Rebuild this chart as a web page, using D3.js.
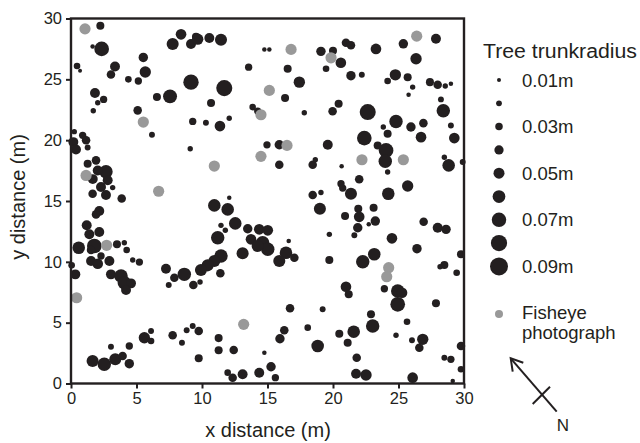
<!DOCTYPE html>
<html><head><meta charset="utf-8">
<script src="https://cdn.jsdelivr.net/npm/d3@7/dist/d3.min.js"></script>
<style>
body{margin:0;background:#fff}
text{font-family:"Liberation Sans",Arial,Helvetica,sans-serif;fill:#231f20}
</style>
</head><body>
<svg id="c" width="640" height="443"></svg>
<script>
// ---- data (metres) ----
const treeX = [
 2.24,2.34,1.65,0.46,0.69,5.52,3.36,3.05,5.67,4.38,
 5.14,9.16,1.83,2.49,2.04,1.70,6.56,7.56,5.09,9.29,
 6.18,9.10,0.18,0.89,1.15,0.38,1.27,0.25,1.91,1.27,
 2.67,2.04,1.66,2.80,3.18,2.29,1.65,2.67,3.87,7.76,
 8.40,9.16,9.54,
 9.67,10.56,11.45,14.76,15.14,13.56,16.54,17.43,11.70,16.34,
 10.69,13.87,14.25,17.81,10.30,11.37,12.08,14.96,15.90,15.90,
 18.45,18.65,19.60,18.45,19.08,19.08,19.47,20.00,20.60,
 20.99,21.37,23.28,25.37,27.86,26.34,21.37,22.20,24.76,24.17,
 25.70,26.08,25.77,27.40,27.99,28.57,29.00,20.43,19.97,22.65,
 28.24,28.42,24.81,24.17,23.84,25.95,26.90,26.72,29.00,29.26,
 22.39,23.41,24.05,23.99,20.66,24.17,28.50,28.83,29.90,20.61,
 20.74,21.37,22.00,24.22,25.70,
 2.16,1.91,1.20,2.16,1.40,1.78,1.53,0.59,3.51,4.07,
 4.25,2.29,1.53,2.04,2.93,4.71,5.22,0.05,0.33,3.05,
 3.82,4.07,4.58,4.20,7.25,7.89,7.46,8.65,9.34,5.60,
 6.11,6.11,4.45,3.05,1.65,2.54,3.38,3.94,4.45,7.76,
 8.47,8.83,9.29,9.75,9.75,
 10.94,11.96,12.08,19.00,12.54,11.45,11.78,13.49,14.37,15.02,
 13.74,14.63,15.02,14.25,16.62,11.20,13.10,11.45,10.94,10.43,
 9.92,11.40,9.85,16.41,17.05,15.90,19.72,19.72,16.72,19.21,
 11.27,16.28,15.95,18.07,18.83,11.27,12.42,14.76,11.96,12.34,
 13.10,14.37,15.27,15.60,
 21.93,23.10,20.92,22.00,21.89,21.63,23.23,22.73,24.50,26.92,
 27.99,28.63,26.41,22.27,23.15,28.50,28.17,29.44,29.77,20.99,
 21.20,23.92,24.94,25.27,24.94,27.86,25.65,22.90,23.03,21.58,
 20.48,21.12,24.81,26.03,26.85,26.59,21.81,21.76,22.52,26.08,
 28.50,29.00,29.77,29.77,29.14
];
const treeY = [
 29.4,27.5,27.7,26.1,25.7,26.8,26.06,25.4,25.6,25.0,
 24.86,24.77,23.87,23.35,23.07,22.42,23.54,23.6,22.45,21.54,
 20.44,19.3,19.84,20.4,20.0,19.24,19.4,20.7,18.34,18.06,
 17.4,17.5,16.8,16.7,16.1,16.15,15.6,15.5,15.2,27.9,
 28.7,27.9,28.5,
 28.3,28.4,28.25,27.46,27.46,26.0,25.87,24.77,24.28,23.46,
 23.05,22.72,22.39,22.25,21.43,21.16,21.8,19.62,19.62,17.98,
 17.98,18.39,19.62,15.5,15.7,27.3,25.87,27.35,26.36,
 28.0,27.8,27.5,27.92,28.33,26.69,25.3,25.37,25.37,24.86,
 25.18,24.36,23.73,24.77,24.55,24.45,24.63,22.99,22.37,22.31,
 23.35,22.42,21.54,20.53,21.08,21.08,21.4,20.25,21.2,20.17,
 20.17,19.57,19.16,18.26,17.85,17.38,18.6,17.93,18.2,16.42,
 16.06,15.6,16.78,15.6,16.23,
 14.17,13.9,13.0,12.45,12.26,11.3,10.97,11.16,11.44,11.57,
 10.97,10.48,10.07,9.84,10.07,10.15,9.98,9.71,8.97,8.97,
 8.83,8.28,8.23,7.68,9.43,8.69,8.09,8.97,8.09,3.76,
 4.31,3.49,3.08,3.02,1.85,1.58,1.99,2.26,1.63,3.96,
 3.35,4.37,4.72,4.31,2.07,
 14.64,14.31,15.27,14.36,13.16,13.0,12.59,12.72,12.67,12.59,
 11.85,11.57,11.03,11.3,11.71,11.98,10.7,10.48,10.07,9.71,
 9.33,9.06,8.34,10.75,10.34,10.07,12.26,10.15,6.18,6.1,
 3.73,4.37,3.68,4.59,3.08,2.73,2.75,2.53,0.89,0.48,
 0.76,0.89,1.38,0.48,
 14.36,14.45,13.76,13.7,12.8,12.18,13.35,13.08,11.93,13.3,
 12.8,12.67,11.08,10.01,10.62,9.74,9.6,9.1,10.62,7.95,
 7.33,7.79,7.6,7.46,6.51,6.59,5.08,5.69,4.72,4.26,
 4.09,3.35,3.96,3.55,3.63,2.94,2.12,0.8,0.7,0.48,
 2.12,1.99,3.08,1.17,0.2
];
const treeRadius = [
 .033,.071,.013,.025,.010,.041,.044,.036,.052,.025,
 .029,.075,.044,.029,.018,.018,.033,.067,.036,.029,
 .021,.018,.044,.029,.036,.044,.021,.018,.036,.033,
 .064,.044,.044,.044,.018,.044,.036,.044,.036,.056,
 .048,.044,.033,
 .052,.044,.056,.013,.013,.029,.033,.052,.079,.033,
 .033,.025,.029,.018,.021,.048,.018,.029,.041,.036,
 .036,.018,.044,.036,.018,.041,.025,.033,.048,
 .036,.036,.048,.041,.044,.052,.041,.021,.052,.025,
 .033,.018,.013,.033,.036,.018,.013,.033,.036,.079,
 .021,.064,.064,.033,.018,.041,.036,.048,.021,.048,
 .071,.033,.071,.064,.013,.018,.018,.059,.021,.029,
 .029,.056,.036,.059,.052,
 .044,.036,.044,.044,.044,.071,.036,.059,.033,.018,
 .025,.029,.044,.048,.044,.018,.029,.025,.044,.044,
 .064,.064,.044,.044,.044,.036,.021,.064,.036,.052,
 .021,.025,.029,.021,.056,.064,.056,.036,.041,.036,
 .021,.021,.021,.036,.033,
 .059,.059,.013,.056,.059,.018,.018,.041,.048,.048,
 .048,.064,.064,.056,.013,.064,.056,.064,.056,.056,
 .056,.036,.018,.059,.036,.056,.018,.033,.036,.021,
 .033,.036,.041,.025,.059,.033,.036,.013,.025,.036,
 .044,.044,.041,.029,
 .033,.033,.033,.048,.041,.021,.041,.013,.048,.036,
 .044,.041,.041,.064,.059,.033,.018,.025,.033,.048,
 .033,.029,.064,.048,.071,.033,.025,.033,.064,.059,
 .033,.033,.018,.021,.052,.036,.036,.044,.052,.048,
 .021,.029,.036,.025,.013
];
const photoX = [1.07,5.52,1.15,6.69,16.8,15.14,14.5,16.49,14.5,10.94,19.85,26.39,22.21,25.37,2.72,0.43,13.18,24.25,24.1];
const photoY = [29.15,21.49,17.1,15.8,27.46,24.09,22.09,19.57,18.67,17.87,26.77,28.55,18.39,18.39,11.36,7.05,4.86,9.52,8.78];
const xTicks = [0,5,10,15,20,25,30];
const yTicks = [0,5,10,15,20,25,30];
const legendSizes = [0.01,0.02,0.03,0.04,0.05,0.06,0.07,0.08,0.09];
const legendLabels = ["0.01m","","0.03m","","0.05m","","0.07m","","0.09m"];
const legendTitle = "Tree trunkradius";
const photoLabel = ["Fisheye","photograph"];

// ---- drawing ----
const BLACK = "#231f20", GRAY = "#999999";
const svg = d3.select("#c");
const x = d3.scaleLinear().domain([0,30]).range([71,464]);
const y = d3.scaleLinear().domain([0,30]).range([383.5,18.5]);
const rScale = d3.scaleLinear().domain([0.01,0.09]).range([2,9]);

const trees = treeX.map((v,i)=>({x:v,y:treeY[i],r:treeRadius[i]}));
const photos = photoX.map((v,i)=>({x:v,y:photoY[i]}));

const plot = svg.append("g");
plot.selectAll("circle.tree").data(trees).enter().append("circle")
  .attr("class","tree").attr("cx",d=>x(d.x)).attr("cy",d=>y(d.y))
  .attr("r",d=>rScale(d.r)).attr("fill",BLACK);
plot.selectAll("circle.photo").data(photos).enter().append("circle")
  .attr("class","photo").attr("cx",d=>x(d.x)).attr("cy",d=>y(d.y))
  .attr("r",5.6).attr("fill",GRAY);

// frame
svg.append("rect").attr("x",71).attr("y",18.5).attr("width",393).attr("height",365)
  .attr("fill","none").attr("stroke",BLACK).attr("stroke-width",2.4);

const xAxis = svg.append("g").attr("transform","translate(0,383.5)")
  .call(d3.axisBottom(x).tickValues(xTicks).tickSize(5).tickPadding(4).tickFormat(d3.format("d")));
const yAxis = svg.append("g").attr("transform","translate(71,0)")
  .call(d3.axisLeft(y).tickValues(yTicks).tickSize(5).tickPadding(4).tickFormat(d3.format("d")));
[xAxis,yAxis].forEach(a=>{
  a.select(".domain").remove();
  a.selectAll(".tick line").attr("stroke",BLACK).attr("stroke-width",2);
  a.selectAll(".tick text").attr("fill",BLACK).style("font-size","16.5px")
   .style("font-family",'"Liberation Sans",Arial,sans-serif');
});

svg.append("text").attr("x",268).attr("y",437).attr("text-anchor","middle")
  .style("font-size","20px").text("x distance (m)");
svg.append("text").attr("transform","translate(24.5,197) rotate(-90)").attr("text-anchor","middle")
  .style("font-size","20px").text("y distance (m)");

// legend
const lg = svg.append("g");
lg.append("text").attr("x",483).attr("y",58).style("font-size","19.5px")
  .attr("textLength",154).attr("lengthAdjust","spacingAndGlyphs").text(legendTitle);
legendSizes.forEach((s,i)=>{
  const cy = 80 + i*23.3;
  lg.append("circle").attr("cx",499).attr("cy",cy).attr("r",rScale(s)).attr("fill",BLACK);
  if(legendLabels[i]) lg.append("text").attr("x",522).attr("y",cy).attr("dy","0.36em")
    .style("font-size","18.5px").text(legendLabels[i]);
});
lg.append("circle").attr("cx",499).attr("cy",314).attr("r",4).attr("fill",GRAY);
photoLabel.forEach((t,i)=>{
  lg.append("text").attr("x",522).attr("y",319+i*20).style("font-size","18.5px").text(t);
});

// north arrow
const na = svg.append("g").attr("stroke",BLACK).attr("stroke-width",2).attr("fill","none");
na.append("line").attr("x1",556.7).attr("y1",411.7).attr("x2",510.7).attr("y2",358.3);
na.append("polyline").attr("points","512.7,371.7 510.7,358.3 523.3,362.7");
na.append("line").attr("x1",532.7).attr("y1",404).attr("x2",550).attr("y2",386.7);
svg.append("text").attr("x",563).attr("y",431).attr("text-anchor","middle").style("font-size","17px").text("N");
</script>
</body></html>
